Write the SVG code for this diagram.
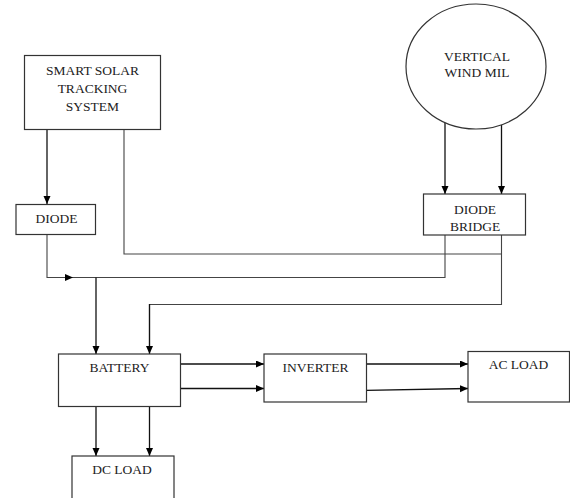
<svg xmlns="http://www.w3.org/2000/svg" width="570" height="498" viewBox="0 0 570 498">
<style>
.box{fill:#fff;stroke:#333;stroke-width:1.2}
.t{font-family:"Liberation Serif","Times New Roman",serif;font-size:13.5px;fill:#222;text-anchor:middle}
.a{fill:none;stroke:#111;stroke-width:1.3;marker-end:url(#ah)}
.l{fill:none;stroke:#444;stroke-width:1.1}
</style>
<defs>
<marker id="ah" markerUnits="userSpaceOnUse" markerWidth="9" markerHeight="8" refX="8" refY="3.5" orient="auto">
<path d="M0,0 L8,3.5 L0,7 z" fill="#000"/>
</marker>
</defs>
<rect width="570" height="498" fill="#fff"/>
<g id="connectors">
<path class="a" d="M47,129 V204"/>
<path class="l" d="M124,129 V254 H501.5"/>
<path class="l" d="M47,235 V277.5 H445 V235"/>
<path d="M65,274 L73,277.5 L65,281 z" fill="#000"/>
<path class="l" d="M501.5,235 V304.5 H149.5 V346"/>
<path class="a" d="M149.5,304 V354"/>
<path class="a" d="M96,277.5 V354"/>
<path class="a" d="M445,122.5 V194"/>
<path class="a" d="M501.5,124.8 V194"/>
<path class="a" d="M180,364 H264"/>
<path class="a" d="M180,388.5 H264"/>
<path class="a" d="M366,364 H468"/>
<path class="a" d="M366,390.3 L468,388.5"/>
<path class="a" d="M96,407 V456"/>
<path class="a" d="M149.5,407 V456"/>
</g>
<g id="solar">
<rect class="box" x="24.5" y="55.5" width="136" height="74"/>
<text class="t" x="92.5" y="74.5">SMART SOLAR</text>
<text class="t" x="92.5" y="92.5">TRACKING</text>
<text class="t" x="92.5" y="110.5">SYSTEM</text>
</g>
<g id="wind">
<ellipse cx="476" cy="66.5" rx="70" ry="62.5" fill="#fff" stroke="#333" stroke-width="1.2"/>
<text class="t" x="477" y="61">VERTICAL</text>
<text class="t" x="477" y="77">WIND MIL</text>
</g>
<g id="diode">
<rect class="box" x="16" y="204.5" width="79.5" height="30"/>
<text class="t" x="56.5" y="223">DIODE</text>
</g>
<g id="bridge">
<rect class="box" x="423.5" y="194" width="102" height="41"/>
<text class="t" x="475" y="214">DIODE</text>
<text class="t" x="475" y="230.5">BRIDGE</text>
</g>
<g id="battery">
<rect class="box" x="58.5" y="354" width="122" height="52.5"/>
<text class="t" x="119.5" y="372">BATTERY</text>
</g>
<g id="inverter">
<rect class="box" x="264" y="354" width="102.5" height="48"/>
<text class="t" x="315.5" y="372">INVERTER</text>
</g>
<g id="acload">
<rect class="box" x="468" y="351.5" width="101.5" height="50.5"/>
<text class="t" x="518.5" y="368.5">AC LOAD</text>
</g>
<g id="dcload">
<rect class="box" x="72" y="456" width="102" height="60"/>
<text class="t" x="122" y="473.5">DC LOAD</text>
</g>
</svg>
